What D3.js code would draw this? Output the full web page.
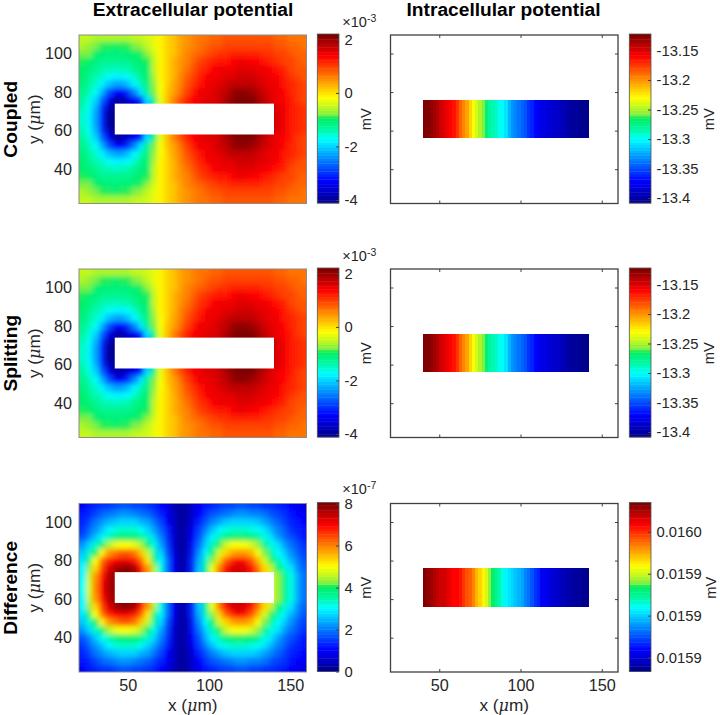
<!DOCTYPE html>
<html>
<head>
<meta charset="utf-8">
<style>
    body { margin: 0; background: #fff; }
    svg { display: block; font-family: "Liberation Sans", Arial, sans-serif; }
    text { fill: #262626; }
</style>
<script src="https://cdn.jsdelivr.net/npm/d3@7"></script>
</head>
<body>
<div id="chart"></div>
<script>
// cell centres of the extracellular grid (um)
const gridX = [22, 26, 30, 34, 38, 42, 46, 50, 54, 58, 62, 66, 70, 74, 78, 82, 86, 90, 94, 98, 102, 106, 110, 114, 118, 122, 126, 130, 134, 138, 142, 146, 150, 154, 158]
const gridY = [108, 104, 100, 96, 92, 88, 84, 80, 76, 72, 68, 64, 60, 56, 52, 48, 44, 40, 36, 32, 28, 24]

// extracellular potential, x 1e-3 mV, one line per gridY
const extraCoupled = [
    [-.5,-.55,-.6,-.6,-.65,-.65,-.65,-.6,-.55,-.5,-.4,-.3,-.1,.05,.2,.35,.45,.55,.65,.7,.75,.8,.85,.85,.9,.9,.9,.9,.85,.85,.8,.75,.7,.7,.65],
    [-.6,-.7,-.8,-.9,-.95,-1,-.95,-.9,-.8,-.7,-.5,-.35,-.15,.05,.2,.35,.5,.6,.7,.8,.85,.9,.95,1,1,1,1,1,.95,.95,.9,.85,.8,.75,.7],
    [-.8,-.85,-.98,-1.03,-1.08,-1.08,-1.08,-1.03,-.98,-.95,-.7,-.4,-.15,.05,.2,.4,.55,.7,.8,.9,1,1.05,1.1,1.15,1.2,1.2,1.2,1.15,1.1,1.05,1,.95,.85,.8,.75],
    [-.95,-1.05,-1.1,-1.18,-1.22,-1.22,-1.22,-1.18,-1.1,-1.05,-.9,-.5,-.15,.05,.25,.45,.6,.75,.95,1.05,1.15,1.25,1.3,1.4,1.43,1.43,1.4,1.35,1.3,1.2,1.1,1,.95,.85,.8],
    [-1,-1.15,-1.25,-1.35,-1.42,-1.45,-1.42,-1.35,-1.25,-1.15,-1,-.55,-.15,.1,.3,.5,.7,.9,1.05,1.2,1.35,1.42,1.45,1.5,1.52,1.52,1.52,1.5,1.45,1.4,1.25,1.15,1,.9,.85],
    [-1.05,-1.2,-1.35,-1.5,-1.7,-1.75,-1.75,-1.65,-1.45,-1.25,-1,-.6,-.15,.1,.3,.55,.75,1,1.2,1.35,1.43,1.5,1.55,1.6,1.65,1.65,1.65,1.6,1.55,1.45,1.38,1.25,1.1,1,.9],
    [-1.1,-1.3,-1.5,-1.8,-2.1,-2.3,-2.25,-2.1,-1.8,-1.4,-1.1,-.7,-.2,.1,.35,.6,.85,1.1,1.3,1.45,1.5,1.55,1.65,1.75,1.8,1.8,1.8,1.7,1.6,1.5,1.42,1.3,1.15,1.05,.95],
    [-1.2,-1.4,-1.7,-2.2,-2.8,-3.3,-3.3,-3,-2.5,-1.85,-1.2,-.85,-.2,.15,.4,.7,.95,1.25,1.43,1.5,1.55,1.65,1.8,1.95,2.05,2.05,2,1.9,1.7,1.55,1.45,1.35,1.2,1.1,1],
    [-1.3,-1.55,-2,-2.7,-3.4,-3.9,-3.85,-3.6,-3.4,-3.1,-1.9,-1.05,-.35,.2,.55,.9,1.2,1.4,1.5,1.55,1.6,1.7,1.85,2.05,2.2,2.2,2.15,2,1.75,1.55,1.45,1.4,1.25,1.1,1],
    [-1.4,-1.7,-2.2,-3,-3.8,-4.1,-4,-3.9,-3.7,-3.4,-2.4,-1.2,-.35,.25,.6,.95,1.25,1.45,1.6,1.7,1.8,1.9,2,2.1,2.2,2.2,2.15,2.05,1.95,1.8,1.55,1.45,1.3,1.15,1.05],
    [-1.45,-1.75,-2.3,-3.1,-3.95,-4.1,-4,-3.9,-3.7,-3.4,-2.4,-1.2,-.35,.25,.6,.95,1.25,1.45,1.6,1.7,1.8,1.9,2,2.1,2.2,2.2,2.15,2.05,1.95,1.8,1.55,1.45,1.3,1.15,1.05],
    [-1.45,-1.75,-2.3,-3.1,-3.95,-4.1,-4,-3.9,-3.7,-3.4,-2.4,-1.2,-.35,.25,.6,.95,1.25,1.45,1.6,1.7,1.8,1.9,2,2.1,2.2,2.2,2.15,2.05,1.95,1.8,1.55,1.45,1.3,1.15,1.05],
    [-1.4,-1.7,-2.2,-3,-3.8,-4.1,-4,-3.9,-3.7,-3.4,-2.4,-1.2,-.35,.25,.6,.95,1.25,1.45,1.6,1.7,1.8,1.9,2,2.1,2.2,2.2,2.15,2.05,1.95,1.8,1.55,1.45,1.3,1.15,1.05],
    [-1.3,-1.55,-2,-2.7,-3.4,-3.9,-3.85,-3.6,-3.4,-3.1,-1.9,-1.05,-.35,.2,.55,.9,1.2,1.4,1.5,1.55,1.6,1.7,1.85,2.05,2.2,2.2,2.15,2,1.75,1.55,1.45,1.4,1.25,1.1,1],
    [-1.2,-1.4,-1.7,-2.2,-2.8,-3.3,-3.3,-3,-2.5,-1.85,-1.2,-.85,-.2,.15,.4,.7,.95,1.25,1.43,1.5,1.55,1.65,1.8,1.95,2.05,2.05,2,1.9,1.7,1.55,1.45,1.35,1.2,1.1,1],
    [-1.1,-1.3,-1.5,-1.8,-2.1,-2.3,-2.25,-2.1,-1.8,-1.4,-1.1,-.7,-.2,.1,.35,.6,.85,1.1,1.3,1.45,1.5,1.55,1.65,1.75,1.8,1.8,1.8,1.7,1.6,1.5,1.42,1.3,1.15,1.05,.95],
    [-1.05,-1.2,-1.35,-1.5,-1.7,-1.75,-1.75,-1.65,-1.45,-1.25,-1,-.6,-.15,.1,.3,.55,.75,1,1.2,1.35,1.43,1.5,1.55,1.6,1.65,1.65,1.65,1.6,1.55,1.45,1.38,1.25,1.1,1,.9],
    [-1,-1.15,-1.25,-1.35,-1.42,-1.45,-1.42,-1.35,-1.25,-1.15,-1,-.55,-.15,.1,.3,.5,.7,.9,1.05,1.2,1.35,1.42,1.45,1.5,1.52,1.52,1.52,1.5,1.45,1.4,1.25,1.15,1,.9,.85],
    [-.95,-1.05,-1.1,-1.18,-1.22,-1.22,-1.22,-1.18,-1.1,-1.05,-.9,-.5,-.15,.05,.25,.45,.6,.75,.95,1.05,1.15,1.25,1.3,1.4,1.43,1.43,1.4,1.35,1.3,1.2,1.1,1,.95,.85,.8],
    [-.8,-.85,-.98,-1.03,-1.08,-1.08,-1.08,-1.03,-.98,-.95,-.7,-.4,-.15,.05,.2,.4,.55,.7,.8,.9,1,1.05,1.1,1.15,1.2,1.2,1.2,1.15,1.1,1.05,1,.95,.85,.8,.75],
    [-.6,-.7,-.8,-.9,-.95,-1,-.95,-.9,-.8,-.7,-.5,-.35,-.15,.05,.2,.35,.5,.6,.7,.8,.85,.9,.95,1,1,1,1,1,.95,.95,.9,.85,.8,.75,.7],
    [-.5,-.55,-.6,-.6,-.65,-.65,-.65,-.6,-.55,-.5,-.4,-.3,-.1,.05,.2,.35,.45,.55,.65,.7,.75,.8,.85,.85,.9,.9,.9,.9,.85,.85,.8,.75,.7,.7,.65]
]

// coupled and splitting differ by ~1e-7 mV here, nothing you can read at this scale
const extraSplitting = extraCoupled

// extracellular difference, x 1e-7 mV
const extraDifference = [
    [1,1.15,1.3,1.4,1.5,1.6,1.65,1.65,1.6,1.55,1.45,1.3,1.1,.85,.5,.15,.3,.65,.95,1.15,1.3,1.45,1.55,1.6,1.65,1.65,1.6,1.55,1.5,1.4,1.3,1.2,1.05,.95,.85],
    [1.15,1.35,1.6,1.8,1.95,2.05,2.15,2.15,2.1,2,1.85,1.6,1.3,1,.55,.15,.35,.75,1.1,1.4,1.65,1.85,2,2.1,2.15,2.15,2.1,2.05,1.9,1.75,1.6,1.4,1.2,1.05,.95],
    [1.35,1.6,1.9,2.2,2.45,2.6,2.7,2.75,2.7,2.5,2.3,2,1.6,1.1,.6,.15,.35,.85,1.35,1.75,2.1,2.35,2.55,2.7,2.75,2.75,2.7,2.55,2.35,2.1,1.85,1.6,1.35,1.2,1.05],
    [1.5,1.85,2.25,2.6,2.95,3.15,3.3,3.35,3.3,3.1,2.75,2.35,1.85,1.3,.65,.15,.4,.95,1.55,2.05,2.55,2.9,3.15,3.3,3.35,3.35,3.25,3.05,2.8,2.45,2.1,1.8,1.5,1.3,1.15],
    [1.7,2.1,2.6,3.05,3.5,3.8,3.95,4,3.95,3.75,3.3,2.75,2.1,1.45,.7,.2,.45,1.1,1.75,2.4,3,3.5,3.85,4,4.05,4,3.9,3.65,3.25,2.8,2.35,2,1.65,1.4,1.25],
    [2.2,2.7,3.3,3.9,4.5,4.8,4.95,5,4.9,4.5,3.9,3.15,2.35,1.6,.75,.2,.5,1.2,2,2.7,3.45,4.1,4.65,4.95,5,5,4.75,4.3,3.75,3.25,2.8,2.35,1.95,1.65,1.4],
    [2.55,3.3,4.1,5.1,5.8,6.1,6.3,6.3,6.1,5.5,4.6,3.6,2.65,1.75,.8,.2,.5,1.3,2.2,3.05,3.95,4.75,5.4,5.75,5.9,5.85,5.55,4.95,4.2,3.7,3.1,2.65,2.2,1.85,1.55],
    [2.8,3.9,5,6.1,6.7,7,7.1,7.15,6.9,6.2,5.2,4,2.9,1.9,.9,.2,.55,1.4,2.4,3.4,4.4,5.4,6.2,6.75,6.95,6.8,6.4,5.6,4.7,4.1,3.5,2.95,2.5,2.05,1.7],
    [2.9,4.3,5.4,6.5,7.2,7.6,7.8,7.9,7.6,6.9,5.8,4.5,3.2,2,.95,.2,.55,1.5,2.6,3.75,4.9,6,6.8,7.25,7.35,7.25,6.9,6.1,5.3,4.6,3.9,3.3,2.8,2.2,1.85],
    [3,4.6,5.8,6.9,7.5,7.8,8,8,7.8,7,6,4.7,3.3,2,1,.2,.6,1.5,2.7,3.9,5.1,6.2,7,7.3,7.4,7.3,7,6.3,5.4,4.9,4.3,3.8,3.2,2.5,2],
    [3.05,4.7,6,7,7.6,7.9,8,8,7.8,7,6,4.7,3.3,2,1,.2,.6,1.5,2.7,3.9,5.1,6.2,7,7.3,7.4,7.3,7,6.3,5.4,4.9,4.3,3.8,3.2,2.5,2],
    [3.05,4.7,6,7,7.6,7.9,8,8,7.8,7,6,4.7,3.3,2,1,.2,.6,1.5,2.7,3.9,5.1,6.2,7,7.3,7.4,7.3,7,6.3,5.4,4.9,4.3,3.8,3.2,2.5,2],
    [3,4.6,5.8,6.9,7.5,7.8,8,8,7.8,7,6,4.7,3.3,2,1,.2,.6,1.5,2.7,3.9,5.1,6.2,7,7.3,7.4,7.3,7,6.3,5.4,4.9,4.3,3.8,3.2,2.5,2],
    [2.9,4.3,5.4,6.5,7.2,7.6,7.8,7.9,7.6,6.9,5.8,4.5,3.2,2,.95,.2,.55,1.5,2.6,3.75,4.9,6,6.8,7.25,7.35,7.25,6.9,6.1,5.3,4.6,3.9,3.3,2.8,2.2,1.85],
    [2.8,3.9,5,6.1,6.7,7,7.1,7.15,6.9,6.2,5.2,4,2.9,1.9,.9,.2,.55,1.4,2.4,3.4,4.4,5.4,6.2,6.75,6.95,6.8,6.4,5.6,4.7,4.1,3.5,2.95,2.5,2.05,1.7],
    [2.55,3.3,4.1,5.1,5.8,6.1,6.3,6.3,6.1,5.5,4.6,3.6,2.65,1.75,.8,.2,.5,1.3,2.2,3.05,3.95,4.75,5.4,5.75,5.9,5.85,5.55,4.95,4.2,3.7,3.1,2.65,2.2,1.85,1.55],
    [2.2,2.7,3.3,3.9,4.5,4.8,4.95,5,4.9,4.5,3.9,3.15,2.35,1.6,.75,.2,.5,1.2,2,2.7,3.45,4.1,4.65,4.95,5,5,4.75,4.3,3.75,3.25,2.8,2.35,1.95,1.65,1.4],
    [1.7,2.1,2.6,3.05,3.5,3.8,3.95,4,3.95,3.75,3.3,2.75,2.1,1.45,.7,.2,.45,1.1,1.75,2.4,3,3.5,3.85,4,4.05,4,3.9,3.65,3.25,2.8,2.35,2,1.65,1.4,1.25],
    [1.5,1.85,2.25,2.6,2.95,3.15,3.3,3.35,3.3,3.1,2.75,2.35,1.85,1.3,.65,.15,.4,.95,1.55,2.05,2.55,2.9,3.15,3.3,3.35,3.35,3.25,3.05,2.8,2.45,2.1,1.8,1.5,1.3,1.15],
    [1.35,1.6,1.9,2.2,2.45,2.6,2.7,2.75,2.7,2.5,2.3,2,1.6,1.1,.6,.15,.35,.85,1.35,1.75,2.1,2.35,2.55,2.7,2.75,2.75,2.7,2.55,2.35,2.1,1.85,1.6,1.35,1.2,1.05],
    [1.15,1.35,1.6,1.8,1.95,2.05,2.15,2.15,2.1,2,1.85,1.6,1.3,1,.55,.15,.35,.75,1.1,1.4,1.65,1.85,2,2.1,2.15,2.15,2.1,2.05,1.9,1.75,1.6,1.4,1.2,1.05,.95],
    [1,1.15,1.3,1.4,1.5,1.6,1.65,1.65,1.6,1.55,1.45,1.3,1.1,.85,.5,.15,.3,.65,.95,1.15,1.3,1.45,1.55,1.6,1.65,1.65,1.6,1.55,1.5,1.4,1.3,1.2,1.05,.95,.85]
]

// intracellular potential along the cell, 2 um apart from x = 41
const cellX = [41, 43, 45, 47, 49, 51, 53, 55, 57, 59, 61, 63, 65, 67, 69, 71, 73, 75, 77, 79, 81, 83, 85, 87, 89, 91, 93, 95, 97, 99, 101, 103, 105, 107, 109, 111, 113, 115, 117, 119, 121, 123, 125, 127, 129, 131, 133, 135, 137, 139, 141]
const intraCoupled = [-13.122, -13.125, -13.128, -13.132, -13.137, -13.145, -13.15, -13.155, -13.158, -13.165, -13.175, -13.185, -13.195, -13.205, -13.22, -13.23, -13.24, -13.25, -13.26, -13.27, -13.28, -13.285, -13.29, -13.297, -13.301, -13.31, -13.32, -13.33, -13.335, -13.34, -13.345, -13.35, -13.355, -13.36, -13.37, -13.373, -13.378, -13.38, -13.382, -13.385, -13.388, -13.39, -13.393, -13.395, -13.397, -13.4, -13.402, -13.404, -13.405, -13.406, -13.407]
const intraSplitting = intraCoupled
const intraDifference = [.015991, .015989, .015987, .015985, .015983, .015981, .01598, .015978, .015976, .015975, .015974, .015973, .01597, .015966, .015963, .015959, .015955, .01595, .015946, .015941, .015935, .01593, .015926, .015922, .015918, .015915, .015913, .015911, .015909, .015907, .015905, .015902, .015899, .015896, .015892, .015889, .015885, .015884, .015883, .015881, .01588, .015878, .015877, .015876, .015875, .015874, .015873, .015872, .015872, .015871, .015871]

// tick labels and colour limits
const xTicks = [50, 100, 150]
const yTicks = [40, 60, 80, 100]
const extraTicks = [-4, -2, 0, 2]
const extraLimits = [-4.11, 2.2]
const diffTicks = [0, 2, 4, 6, 8]
const diffLimits = [0, 8.05]
const intraTicks = [-13.4, -13.35, -13.3, -13.25, -13.2, -13.15]
const intraLimits = [-13.4085, -13.122]
const intraDiffTicks = [.01588, .01591, .01594, .01597]
const intraDiffLimits = [.01587, .015991]

const rowNames = ['Coupled', 'Splitting', 'Difference']
const rowTops = [35, 269, 503.5]

// jet as it came out in the figure: a hard step from spring green to lime in the middle
const jetRamp = d3.scaleLinear()
    .domain([0, .125, .375, .44, .505, .515, .57, .625, .875, 1])
    .range(['#00008f', '#0000ff', '#00ffff', '#00f8a0', '#00ee60', '#70ee48', '#c0f820', '#ffff00', '#ff0000', '#800000'])
const jet = (limits) => (v) => {
    const t = (v - limits[0]) / (limits[1] - limits[0])
    const level = Math.max(0, Math.min(63, Math.floor(t * 64)))
    return jetRamp(level / 63)
}

const plotW = 227.5
const plotH = 168.5
const leftX = 79
const rightX = 390.5
const tickFont = 16.2
const barFont = 14.8
const labelFont = 17.2

const svg = d3.select('#chart').append('svg')
    .attr('width', 720)
    .attr('height', 715)

const defs = svg.append('defs')
defs.append('filter')
    .attr('id', 'soften')
    .attr('filterUnits', 'userSpaceOnUse')
    .attr('x', -20).attr('y', -20).attr('width', 360).attr('height', 220)
    .append('feGaussianBlur')
    .attr('stdDeviation', 2.4)

const makeScales = () => ({
    x: d3.scaleLinear().domain([20, 160]).range([0, plotW]),
    y: d3.scaleLinear().domain([22.2, 109.6]).range([plotH, 0])
})

// um label with the mu in italics, like the tex interpreter does it
const axisLabel = (sel, letter) => {
    sel.append('tspan').text(letter + ' (')
    sel.append('tspan').attr('font-family', 'DejaVu Serif').attr('font-style', 'italic').attr('font-size', 16).text('\u03bc')
    sel.append('tspan').text('m)')
}

const drawAxes = (g, scales, showX, showY) => {
    const none = () => ''
    const bottom = d3.axisBottom(scales.x).tickValues(xTicks).tickSize(-3).tickPadding(7)
    const left = d3.axisLeft(scales.y).tickValues(yTicks).tickSize(-3).tickPadding(7)
    if (!showX) bottom.tickFormat(none)
    if (!showY) left.tickFormat(none)
    const top = d3.axisTop(scales.x).tickValues(xTicks).tickSize(-3).tickFormat(none)
    const right = d3.axisRight(scales.y).tickValues(yTicks).tickSize(-3).tickFormat(none)

    g.append('g').attr('transform', `translate(0,${plotH})`).call(bottom)
    g.append('g').call(left)
    g.append('g').call(top)
    g.append('g').attr('transform', `translate(${plotW},0)`).call(right)

    g.selectAll('.domain').remove()
    g.selectAll('.tick line').attr('stroke', '#404040').attr('stroke-width', 1)
    g.selectAll('.tick text').attr('font-size', tickFont).attr('font-family', 'Liberation Sans').attr('fill', '#262626')
}

const drawColorbar = (g, x, height, limits, ticks, format, labelX, multiplier, multY) => {
    const bar = g.append('g').attr('transform', `translate(${x},-1)`)
    const barW = 21.7
    const barY = d3.scaleLinear().domain(limits).range([height, 0])
    const color = jet(limits)
    const levels = d3.range(64).map(i => limits[0] + (i + .5) * (limits[1] - limits[0]) / 64)
    const step = (limits[1] - limits[0]) / 64

    bar.selectAll('rect')
        .data(levels)
        .enter()
        .append('rect')
        .attr('x', 0)
        .attr('width', barW)
        .attr('y', d => barY(d + step / 2))
        .attr('height', height / 64 + .4)
        .attr('fill', d => color(d))

    const axis = d3.axisRight(barY).tickValues(ticks).tickSize(-3).tickPadding(5.5).tickFormat(format)
    const axisG = bar.append('g').attr('transform', `translate(${barW},0)`).call(axis)
    axisG.select('.domain').remove()
    axisG.selectAll('.tick line').attr('stroke', '#404040')
    axisG.selectAll('.tick text').attr('font-size', barFont).attr('font-family', 'Liberation Sans').attr('fill', '#262626')

    bar.append('rect')
        .attr('width', barW)
        .attr('height', height)
        .attr('fill', 'none')
        .attr('stroke', '#555')
        .attr('stroke-width', .8)

    g.append('text')
        .attr('transform', `translate(${labelX},${plotH / 2}) rotate(-90)`)
        .attr('text-anchor', 'middle')
        .attr('dy', '.35em')
        .attr('font-size', barFont)
        .text('mV')

    if (multiplier) {
        const m = g.append('text')
            .attr('x', x + 25)
            .attr('y', multY)
            .attr('font-size', 14.5)
        m.append('tspan').text('\u00d710')
        m.append('tspan').attr('font-size', 10.5).attr('dy', -5).text(multiplier)
    }
}

const drawExtra = (row, grid, limits, ticks, multiplier) => {
    const g = svg.append('g').attr('transform', `translate(${leftX},${rowTops[row]})`)
    const scales = makeScales()
    const color = jet(limits)
    const clipId = 'clip' + row

    drawAxes(g, scales, row === 2, true)

    defs.append('clipPath').attr('id', clipId)
        .append('rect').attr('width', plotW).attr('height', plotH)

    const cells = []
    grid.forEach((line, r) => line.forEach((v, c) => cells.push({ r, c, v })))

    // outer cells run past the frame so the blur does not fade at the edge
    const pad = (i, last) => (i === 0 || i === last) ? 10 : 0
    g.append('g').attr('clip-path', `url(#${clipId})`)
        .append('g').attr('filter', 'url(#soften)')
        .selectAll('rect')
        .data(cells)
        .enter()
        .append('rect')
        .attr('x', d => scales.x(gridX[d.c] - 2) - (d.c === 0 ? pad(d.c, 34) : 0))
        .attr('width', d => scales.x(4) - scales.x(0) + pad(d.c, 34))
        .attr('y', d => scales.y(gridY[d.r] + 2) - (d.r === 0 ? pad(d.r, 21) : 0))
        .attr('height', d => scales.y(0) - scales.y(4) + pad(d.r, 21))
        .attr('fill', d => color(d.v))
        .attr('shape-rendering', 'crispEdges')

    // the cell itself is a hole in the extracellular field
    g.append('rect')
        .attr('x', scales.x(42))
        .attr('width', scales.x(140) - scales.x(42))
        .attr('y', scales.y(74))
        .attr('height', scales.y(58) - scales.y(74))
        .attr('fill', '#fff')

    g.append('rect')
        .attr('width', plotW)
        .attr('height', plotH)
        .attr('fill', 'none')
        .attr('stroke', '#8c8c8c')
        .attr('stroke-width', 1)

    drawColorbar(g, 238.3, plotH + .5, limits, ticks, d => d, 287, multiplier, row === 2 ? -10 : -8)
}

const drawIntra = (row, values, limits, ticks, format, labelX) => {
    const g = svg.append('g').attr('transform', `translate(${rightX},${rowTops[row]})`)
    const scales = makeScales()
    const color = jet(limits)

    g.selectAll('rect.cell')
        .data(values)
        .enter()
        .append('rect')
        .attr('class', 'cell')
        .attr('x', (d, i) => scales.x(cellX[i] - 1))
        .attr('width', scales.x(2.2) - scales.x(0))
        .attr('y', scales.y(76))
        .attr('height', scales.y(56) - scales.y(76))
        .attr('fill', d => color(d))
        .attr('shape-rendering', 'crispEdges')

    drawAxes(g, scales, row === 2, false)

    g.append('rect')
        .attr('width', plotW)
        .attr('height', plotH)
        .attr('fill', 'none')
        .attr('stroke', '#404040')
        .attr('stroke-width', 1.3)

    drawColorbar(g, 238.8, plotH + .5, limits, ticks, format, labelX, null, 0)
}

drawExtra(0, extraCoupled, extraLimits, extraTicks, '-3')
drawExtra(1, extraSplitting, extraLimits, extraTicks, '-3')
drawExtra(2, extraDifference, diffLimits, diffTicks, '-7')

drawIntra(0, intraCoupled, intraLimits, intraTicks, d => d, 318.5)
drawIntra(1, intraSplitting, intraLimits, intraTicks, d => d, 318.5)
drawIntra(2, intraDifference, intraDiffLimits, intraDiffTicks, d3.format('.4f'), 320)

// column titles
svg.append('text').attr('x', 193).attr('y', 16).attr('text-anchor', 'middle')
    .attr('font-size', 19.2).attr('font-weight', 'bold').attr('style', 'fill:#000').text('Extracellular potential')
svg.append('text').attr('x', 503.5).attr('y', 16).attr('text-anchor', 'middle')
    .attr('font-size', 19.2).attr('font-weight', 'bold').attr('style', 'fill:#000').text('Intracellular potential')

// row titles and y labels
rowNames.forEach((name, i) => {
    const cy = rowTops[i] + plotH / 2
    svg.append('text')
        .attr('transform', `translate(10,${cy}) rotate(-90)`)
        .attr('text-anchor', 'middle')
        .attr('dy', '.35em')
        .attr('font-size', 19.2)
        .attr('font-weight', 'bold')
        .attr('style', 'fill:#000')
        .text(name)
    svg.append('text')
        .attr('transform', `translate(34,${cy}) rotate(-90)`)
        .attr('text-anchor', 'middle')
        .attr('dy', '.35em')
        .attr('font-size', labelFont)
        .call(axisLabel, 'y')
})

// x labels under the last row
svg.append('text').attr('x', leftX + plotW / 2).attr('y', 711).attr('text-anchor', 'middle')
    .attr('font-size', labelFont).call(axisLabel, 'x')
svg.append('text').attr('x', rightX + plotW / 2).attr('y', 711).attr('text-anchor', 'middle')
    .attr('font-size', labelFont).call(axisLabel, 'x')
</script>
</body>
</html>
